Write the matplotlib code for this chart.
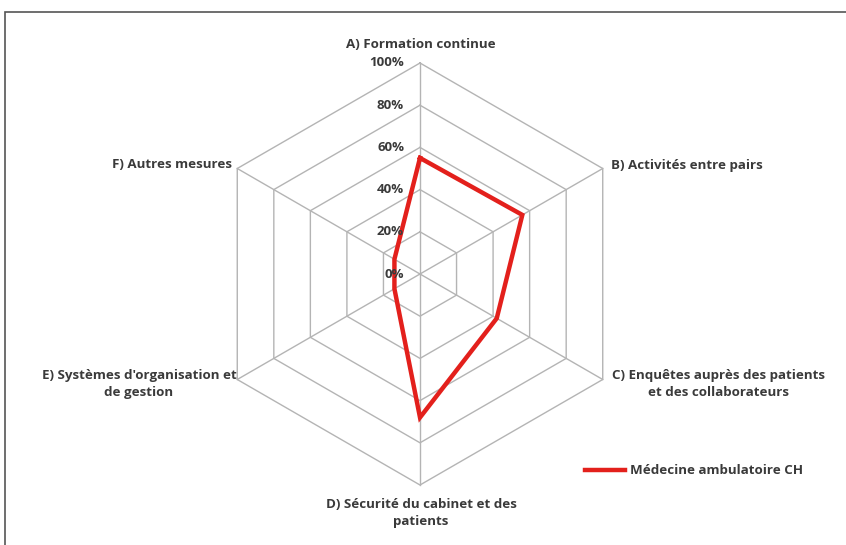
import matplotlib.pyplot as plt
import numpy as np
from matplotlib.patches import Rectangle

# data
categories = ['A) Formation continue', 'B) Activités entre pairs',
              'C) Enquêtes auprès des patients\net des collaborateurs',
              'D) Sécurité du cabinet et des\npatients',
              "E) Systèmes d'organisation et\nde gestion", 'F) Autres mesures']
values = [55, 56, 42, 68, 14, 14]
levels = [0, 20, 40, 60, 80, 100]
tick_labels = ['0%', '20%', '40%', '60%', '80%', '100%']
series_name = 'Médecine ambulatoire CH'

plt.rcParams['font.family'] = ['Open Sans', 'DejaVu Sans']
text_color = '#3a3a3a'
grid_color = '#b4b4b4'
red = '#e3201c'

W, H, dpi = 846, 545, 100
cx, cy, R = 420, 274, 211  # centre and radius in pixels

fig = plt.figure(figsize=(W / dpi, H / dpi), dpi=dpi)
ax = fig.add_axes([0, 0, 1, 1])
ax.set_xlim(-cx / R, (W - cx) / R)
ax.set_ylim(-(H - cy) / R, cy / R)
ax.axis('off')

n = len(categories)
theta = np.arange(n) * 2 * np.pi / n  # clockwise from top

def to_xy(r, th):
    return r * np.sin(th), r * np.cos(th)

# hexagon grid
for lv in levels[1:]:
    x, y = to_xy(lv / 100, np.append(theta, theta[0]))
    ax.plot(x, y, color=grid_color, lw=1, zorder=1)
for th in theta:
    x, y = to_xy(np.array([0, 1]), th)
    ax.plot(x, y, color=grid_color, lw=1, zorder=1)

# series
v = np.array(values) / 100
x, y = to_xy(np.append(v, v[0]), np.append(theta, theta[0]))
ax.plot(x, y, color=red, lw=3.2, solid_joinstyle='miter', zorder=3)

# radial tick labels along axis A
for lv, lab in zip(levels, tick_labels):
    ax.text(-16 / R, lv / 100, lab, ha='right', va='center', fontsize=9.5,
            fontweight='bold', color=text_color, zorder=4)

# category labels (pixel positions converted to data)
def px(xp, yp):
    return (xp - cx) / R, (cy - yp) / R

label_pos = [
    (px(421, 44), 'center', 'center'),
    (px(611, 165), 'left', 'center'),
    (px(718, 384), 'center', 'center'),
    (px(421, 513), 'center', 'center'),
    (px(139, 384), 'center', 'center'),
    (px(232, 164), 'right', 'center'),
]
for lab, (pos, ha, va) in zip(categories, label_pos):
    ax.text(pos[0], pos[1], lab, ha=ha, va=va, fontsize=9.6, fontweight='bold',
            color=text_color, multialignment='center', linespacing=1.45)

# legend
lx0, ly = px(585, 470)
lx1, _ = px(625, 470)
ax.plot([lx0, lx1], [ly, ly], color=red, lw=3.2)
tx, _ = px(630, 470)
ax.text(tx, ly, series_name, ha='left', va='center', fontsize=9.6,
        fontweight='bold', color=text_color)

# outer frame
fig.patches.append(Rectangle((5 / W, -0.02), 1.02, 1 - 12 / H + 0.02,
                             transform=fig.transFigure, fill=False,
                             edgecolor='#555555', lw=1.2))

fig.savefig('out.png', dpi=dpi, facecolor='white')
